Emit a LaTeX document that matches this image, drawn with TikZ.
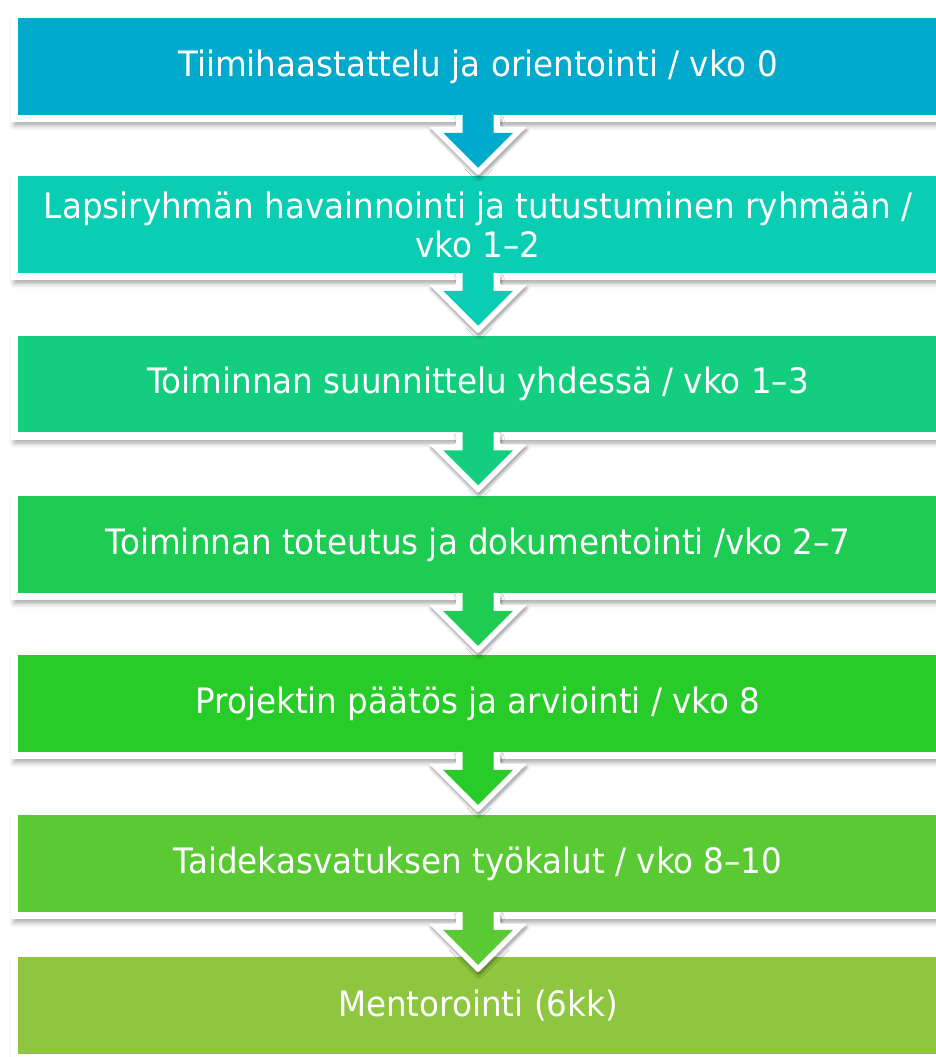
\documentclass[tikz,border=0pt]{standalone}
\usepackage{fontspec}
\setmainfont{DejaVu Sans}[FakeStretch=0.93]
\usetikzlibrary{calc,shadows.blur}
\definecolor{stageA}{RGB}{0,170,204}
\definecolor{stageB}{RGB}{10,206,180}
\definecolor{stageC}{RGB}{20,206,128}
\definecolor{stageD}{RGB}{30,204,84}
\definecolor{stageE}{RGB}{40,204,40}
\definecolor{stageF}{RGB}{90,202,52}
\definecolor{stageG}{RGB}{142,198,64}

\begin{document}
\begin{tikzpicture}[x=1pt,y=1pt]
	\tikzstyle{stage}=[draw=white,line width=7.5pt,outer sep=0pt,inner sep=0pt,minimum width=927.5pt,minimum height=104pt,text=white,font=\fontsize{35}{39}\selectfont,align=center,blur shadow={shadow xshift=0pt,shadow yshift=-7pt,shadow blur radius=5pt,shadow opacity=35}];
	\tikzstyle{rim}=[fill=white,rounded corners=2pt,blur shadow={shadow xshift=1pt,shadow yshift=-3pt,shadow blur radius=3pt,shadow opacity=40}];

	\useasboundingbox (0,0) rectangle (936,-1057);
	\clip (0,0) rectangle (936,-1057);

	\node[stage,fill=stageA] (tiimi) at (478,-66.5) {Tiimihaastattelu ja orientointi / vko 0};
	\node[stage,fill=stageB] (lapsi) at (478,-224.5) {Lapsiryhmän havainnointi ja tutustuminen ryhmään /\\vko 1–2};
	\node[stage,fill=stageC] (suunnittelu) at (478,-384) {Toiminnan suunnittelu yhdessä / vko 1–3};
	\node[stage,fill=stageD] (toteutus) at (478,-544.5) {Toiminnan toteutus ja dokumentointi /vko 2–7};
	\node[stage,fill=stageE] (paatos) at (478,-703.5) {Projektin päätös ja arviointi / vko 8};
	\node[stage,fill=stageF] (tyokalut) at (478,-863.5) {Taidekasvatuksen työkalut / vko 8–10};
	\node[stage,fill=stageG] (mentor) at (478,-1005.5) {Mentorointi (6kk)};

	\begin{scope}[shift={($(tiimi.south)+(0,3.75)$)}]
		\fill[rim] (-22,0) -- (-22,-12) -- (-49,-12) -- (0,-61) -- (49,-12) -- (22,-12) -- (22,0) -- cycle;
		\fill[stageA] (-15.5,1) -- (-15.5,-18) -- (-35,-18) -- (0,-53) -- (35,-18) -- (15.5,-18) -- (15.5,1) -- cycle;
	\end{scope}
	\begin{scope}[shift={($(lapsi.south)+(0,3.75)$)}]
		\fill[rim] (-22,0) -- (-22,-12) -- (-49,-12) -- (0,-61) -- (49,-12) -- (22,-12) -- (22,0) -- cycle;
		\fill[stageB] (-15.5,1) -- (-15.5,-18) -- (-35,-18) -- (0,-53) -- (35,-18) -- (15.5,-18) -- (15.5,1) -- cycle;
	\end{scope}
	\begin{scope}[shift={($(suunnittelu.south)+(0,3.75)$)}]
		\fill[rim] (-22,0) -- (-22,-12) -- (-49,-12) -- (0,-61) -- (49,-12) -- (22,-12) -- (22,0) -- cycle;
		\fill[stageC] (-15.5,1) -- (-15.5,-18) -- (-35,-18) -- (0,-53) -- (35,-18) -- (15.5,-18) -- (15.5,1) -- cycle;
	\end{scope}
	\begin{scope}[shift={($(toteutus.south)+(0,3.75)$)}]
		\fill[rim] (-22,0) -- (-22,-12) -- (-49,-12) -- (0,-61) -- (49,-12) -- (22,-12) -- (22,0) -- cycle;
		\fill[stageD] (-15.5,1) -- (-15.5,-18) -- (-35,-18) -- (0,-53) -- (35,-18) -- (15.5,-18) -- (15.5,1) -- cycle;
	\end{scope}
	\begin{scope}[shift={($(paatos.south)+(0,3.75)$)}]
		\fill[rim] (-22,0) -- (-22,-12) -- (-49,-12) -- (0,-61) -- (49,-12) -- (22,-12) -- (22,0) -- cycle;
		\fill[stageE] (-15.5,1) -- (-15.5,-18) -- (-35,-18) -- (0,-53) -- (35,-18) -- (15.5,-18) -- (15.5,1) -- cycle;
	\end{scope}
	\begin{scope}[shift={($(tyokalut.south)+(0,3.75)$)}]
		\fill[rim] (-22,0) -- (-22,-12) -- (-49,-12) -- (0,-61) -- (49,-12) -- (22,-12) -- (22,0) -- cycle;
		\fill[stageF] (-15.5,1) -- (-15.5,-18) -- (-35,-18) -- (0,-53) -- (35,-18) -- (15.5,-18) -- (15.5,1) -- cycle;
	\end{scope}
\end{tikzpicture}
\end{document}
